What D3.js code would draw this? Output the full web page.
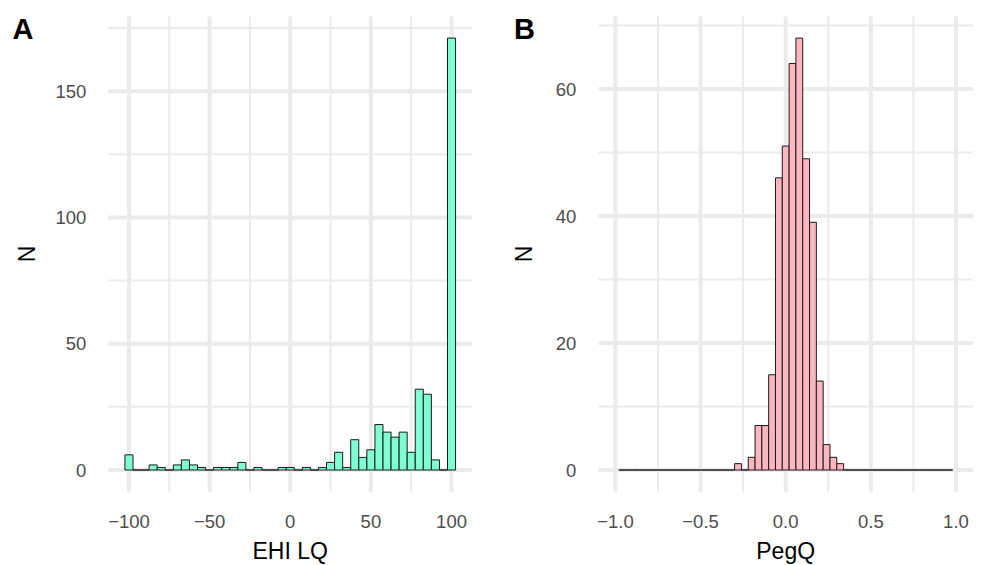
<!DOCTYPE html>
<html><head><meta charset="utf-8">
<script src="https://cdn.jsdelivr.net/npm/d3@7"></script>
<style>body{margin:0;background:#fff}svg{display:block}text{font-family:"Liberation Sans",Arial,sans-serif}</style>
</head><body>
<svg id="c" width="983" height="565"></svg>
<script>
// Panel A: EHI LQ histogram (binwidth 5, bin centres)
const ehiCenters = d3.range(-100, 101, 5);
const ehiCounts = [6,0,0,2,1,0,2,4,2,1,0,1,1,1,3,0,1,0,0,1,1,0,1,0,1,3,7,1,12,5,8,18,15,13,15,7,32,30,4,0,171];
// Panel B: PegQ histogram (binwidth 0.04, bin centres)
const pegCenters = d3.range(-24, 25).map(i => i * 0.04);
const pegNonZero = {"-0.28":1,"-0.20":2,"-0.16":7,"-0.12":7,"-0.08":15,"-0.04":46,"0.00":51,"0.04":64,"0.08":68,"0.12":49,"0.16":39,"0.20":14,"0.24":4,"0.28":2,"0.32":1};
const pegCounts = pegCenters.map(c => pegNonZero[(Math.abs(c) < 1e-9 ? 0 : c).toFixed(2)] || 0);
const ehiTicks = [-100, -50, 0, 50, 100];
const ehiMinor = [-75, -25, 25, 75];
const ehiYTicks = [0, 50, 100, 150];
const ehiYMinor = [25, 75, 125, 175];
const pegTicks = [-1, -0.5, 0, 0.5, 1];
const pegMinor = [-0.75, -0.25, 0.25, 0.75];
const pegYTicks = [0, 20, 40, 60];
const pegYMinor = [10, 30, 50, 70];

const svg = d3.select("#c");
const fmtMinus = s => s.replace(/-/g, "\u2212");

function panel(opt) {
  const x = d3.scaleLinear().domain(opt.xdom).range(opt.xr);
  const y = d3.scaleLinear().domain(opt.ydom).range([491.6, 16.5]);
  const g = svg.append("g");
  const [x0, x1] = opt.xr, y0 = 491.6, y1 = 16.5;
  // grid
  g.selectAll(".mx").data(opt.xMinor).join("line").attr("x1", d => x(d)).attr("x2", d => x(d)).attr("y1", y0).attr("y2", y1).attr("stroke", "#EBEBEB").attr("stroke-width", 2);
  g.selectAll(".my").data(opt.yMinor).join("line").attr("y1", d => y(d)).attr("y2", d => y(d)).attr("x1", x0).attr("x2", x1).attr("stroke", "#EBEBEB").attr("stroke-width", 2);
  g.selectAll(".Mx").data(opt.xTicks).join("line").attr("x1", d => x(d)).attr("x2", d => x(d)).attr("y1", y0).attr("y2", y1).attr("stroke", "#EBEBEB").attr("stroke-width", 4);
  g.selectAll(".My").data(opt.yTicks).join("line").attr("y1", d => y(d)).attr("y2", d => y(d)).attr("x1", x0).attr("x2", x1).attr("stroke", "#EBEBEB").attr("stroke-width", 4);
  // bars (paths so zero-count bins still draw their outline)
  const hw = opt.bw / 2;
  g.selectAll("path.bar").data(opt.centers.map((c, i) => ({c, n: opt.counts[i]}))).join("path").attr("class", "bar")
    .attr("d", d => {
      const a = x(d.c - hw), b = x(d.c + hw), t = y(d.n), z = y(0);
      return `M${a},${z}V${t}H${b}V${z}Z`;
    })
    .attr("fill", opt.fill).attr("stroke", "#1a1a1a").attr("stroke-width", 1);
  // tick labels
  g.selectAll(".xl").data(opt.xTicks).join("text").attr("x", d => x(d)).attr("y", 528.3)
    .attr("text-anchor", "middle").attr("font-size", 18.5).attr("fill", "#4D4D4D").text(d => fmtMinus(opt.xfmt(d)));
  g.selectAll(".yl").data(opt.yTicks).join("text").attr("x", x0 - 22).attr("y", d => y(d) + 6.6)
    .attr("text-anchor", "end").attr("font-size", 18.5).attr("fill", "#4D4D4D").text(d => d);
  // titles
  g.append("text").attr("x", (x0 + x1) / 2).attr("y", 558.5).attr("text-anchor", "middle").attr("font-size", 23).attr("fill", "#000").text(opt.xtitle);
  g.append("text").attr("transform", `translate(${opt.ytx},${(y0 + y1) / 2}) rotate(-90)`).attr("text-anchor", "middle").attr("font-size", 23).attr("fill", "#000").text("N");
  g.append("text").attr("x", opt.tagx).attr("y", 39.3).attr("font-size", 29).attr("font-weight", "bold").attr("fill", "#000").text(opt.tag);
}

panel({xdom: [-112.75, 112.75], xr: [108.4, 472.1], ydom: [-8.55, 179.55], centers: ehiCenters, counts: ehiCounts, bw: 5,
  xTicks: ehiTicks, xMinor: ehiMinor, yTicks: ehiYTicks, yMinor: ehiYMinor, fill: "#7FFFD4", xfmt: d => String(d),
  xtitle: "EHI LQ", ytx: 35, tag: "A", tagx: 12.5});
panel({xdom: [-1.1, 1.1], xr: [598.4, 973], ydom: [-3.4, 71.4], centers: pegCenters, counts: pegCounts, bw: 0.04,
  xTicks: pegTicks, xMinor: pegMinor, yTicks: pegYTicks, yMinor: pegYMinor, fill: "#FFB6C1", xfmt: d => d.toFixed(1),
  xtitle: "PegQ", ytx: 532, tag: "B", tagx: 514});
</script>
</body></html>
